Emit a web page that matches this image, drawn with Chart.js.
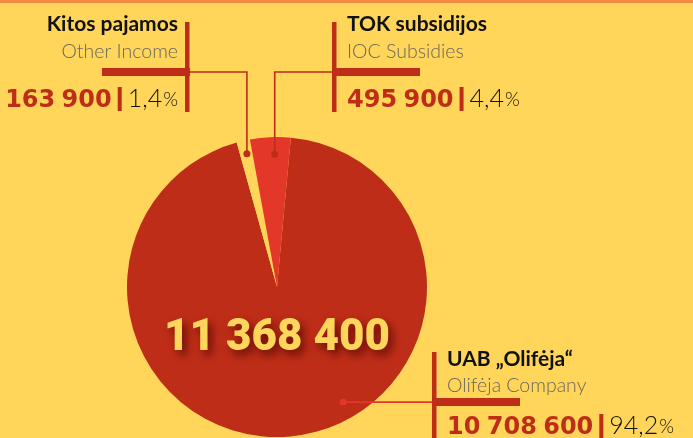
<!DOCTYPE html>
<html>
<head>
<meta charset="utf-8">
<script src="https://cdn.jsdelivr.net/npm/chart.js@4.4.0/dist/chart.umd.min.js"></script>
<style>
  html, body { margin: 0; padding: 0; background: #FFD55A; }
  .wrap { position: relative; width: 693px; height: 438px; overflow: hidden; }
</style>
</head>
<body>
<div class="wrap"><canvas id="incomeChart"></canvas></div>
<script>
// data
const namesLt = ['UAB \u201EOlifėja\u201C', 'Kitos pajamos', 'TOK subsidijos'];
const namesEn = ['Olifėja Company', 'Other Income', 'IOC Subsidies'];
const amounts = [10708600, 163900, 495900];

const bg = '#FFD55A';
const darkRed = '#BE2D17';
const brightRed = '#E3372A';
const sliceColors = [darkRed, bg, brightRed];

const total = amounts.reduce((a, b) => a + b, 0);
const fmt = n => String(n).replace(/\B(?=(\d{3})+(?!\d))/g, ' ');
const pct = n => (n / total * 100).toFixed(1).replace('.', ',');

// callout layout
const callouts = [
  { idx: 1, align: 'right', textX: 178, barX: 185, barTop: 22, barBottom: 112, thickX: 102, thickY: 68, titleY: 31, subY: 58, rowY: 107, frac: 0.55, rFrac: 0.91, via: 'top', lineColor: darkRed },
  { idx: 2, align: 'left', textX: 347, barX: 332, barTop: 22, barBottom: 112, thickX: 332, thickY: 68, titleY: 31, subY: 58, rowY: 107, frac: 0.6, rFrac: 0.885, via: 'top', lineColor: darkRed },
  { idx: 0, align: 'left', textX: 447, barX: 432, barTop: 352, barBottom: 438, thickX: 432, thickY: 398, titleY: 366, subY: 392, rowY: 434, frac: 0.427, rFrac: 0.885, via: 'side', lineColor: brightRed }
];

const decor = {
  id: 'decor',
  beforeDraw(chart) {
    const ctx = chart.ctx;
    ctx.save();
    ctx.fillStyle = bg;
    ctx.fillRect(0, 0, chart.width, chart.height);
    ctx.fillStyle = '#F28B3E';
    ctx.fillRect(0, 0, chart.width, 3);
    ctx.restore();
  },
  afterDraw(chart) {
    const ctx = chart.ctx;
    const meta = chart.getDatasetMeta(0);
    ctx.save();

    callouts.forEach(c => {
      const arc = meta.data[c.idx];
      const p = arc.getProps(['x', 'y', 'startAngle', 'endAngle', 'outerRadius'], true);
      const a = p.startAngle + c.frac * (p.endAngle - p.startAngle);
      const dx = p.x + Math.cos(a) * p.outerRadius * c.rFrac;
      const dy = p.y + Math.sin(a) * p.outerRadius * c.rFrac;

      // leader line
      ctx.strokeStyle = c.lineColor;
      ctx.lineWidth = 1.6;
      ctx.beginPath();
      if (c.via === 'top') {
        const ly = c.thickY + 4;
        ctx.moveTo(c.barX + 2, ly);
        ctx.lineTo(dx, ly);
        ctx.lineTo(dx, dy);
      } else {
        ctx.moveTo(dx, dy);
        ctx.lineTo(c.barX, dy);
      }
      ctx.stroke();
      ctx.fillStyle = c.lineColor;
      ctx.beginPath();
      ctx.arc(dx, dy, 3.5, 0, Math.PI * 2);
      ctx.fill();

      // bars
      ctx.fillStyle = darkRed;
      ctx.fillRect(c.barX, c.barTop, 4.5, c.barBottom - c.barTop);
      ctx.fillRect(c.thickX, c.thickY, 88, 8);

      // texts
      ctx.textBaseline = 'alphabetic';
      ctx.textAlign = c.align;
      ctx.fillStyle = '#111';
      ctx.font = 'bold 21px Lato';
      ctx.fillText(namesLt[c.idx], c.textX, c.titleY);
      ctx.fillStyle = '#6B675C';
      ctx.font = '300 19.5px Lato';
      ctx.fillText(namesEn[c.idx], c.textX, c.subY);

      // value row
      const num = fmt(amounts[c.idx]);
      const share = pct(amounts[c.idx]);
      ctx.textAlign = 'left';
      ctx.wordSpacing = '-2px';
      ctx.font = 'bold 24px "DejaVu Sans"';
      const wNum = ctx.measureText(num).width;
      ctx.font = '300 25px Lato';
      const wShare = ctx.measureText(share).width;
      ctx.font = '300 19px Lato';
      const wPct = ctx.measureText('%').width;
      const gap = 6, sepW = 4;
      const rowW = wNum + gap + sepW + gap + wShare + 1 + wPct;
      let x = c.align === 'right' ? c.textX - rowW : c.textX;

      ctx.fillStyle = darkRed;
      ctx.font = 'bold 24px "DejaVu Sans"';
      ctx.fillText(num, x, c.rowY);
      ctx.wordSpacing = '0px';
      x += wNum + gap;
      ctx.fillRect(x, c.rowY - 20, sepW, 24);
      x += sepW + gap;
      ctx.fillStyle = '#111';
      ctx.font = '300 25px Lato';
      ctx.fillText(share, x, c.rowY);
      x += wShare + 1;
      ctx.font = '300 19px Lato';
      ctx.fillText('%', x, c.rowY - 1);
    });

    // total in the middle
    const first = meta.data[0];
    ctx.font = '900 44px Roboto';
    ctx.textAlign = 'center';
    ctx.textBaseline = 'alphabetic';
    ctx.shadowColor = 'rgba(80, 8, 0, 0.8)';
    ctx.shadowBlur = 8;
    ctx.shadowOffsetX = 4;
    ctx.shadowOffsetY = 5;
    ctx.fillStyle = '#FFD65C';
    ctx.fillText(fmt(total), first.x, first.y + 63);
    ctx.restore();
  }
};

const ctx = document.getElementById('incomeChart').getContext('2d');
const incomeChart = new Chart(ctx, {
  type: 'pie',
  data: {
    labels: namesLt,
    datasets: [{
      data: amounts,
      backgroundColor: sliceColors,
      borderWidth: 0,
      hoverOffset: 0
    }]
  },
  options: {
    responsive: true,
    maintainAspectRatio: false,
    animation: false,
    events: [],
    rotation: 5.3,
    layout: {
      padding: { left: 127, right: 266, top: 137, bottom: 1 }
    },
    plugins: {
      legend: { display: false },
      tooltip: { enabled: false }
    }
  },
  plugins: [decor]
});
</script>
</body>
</html>
